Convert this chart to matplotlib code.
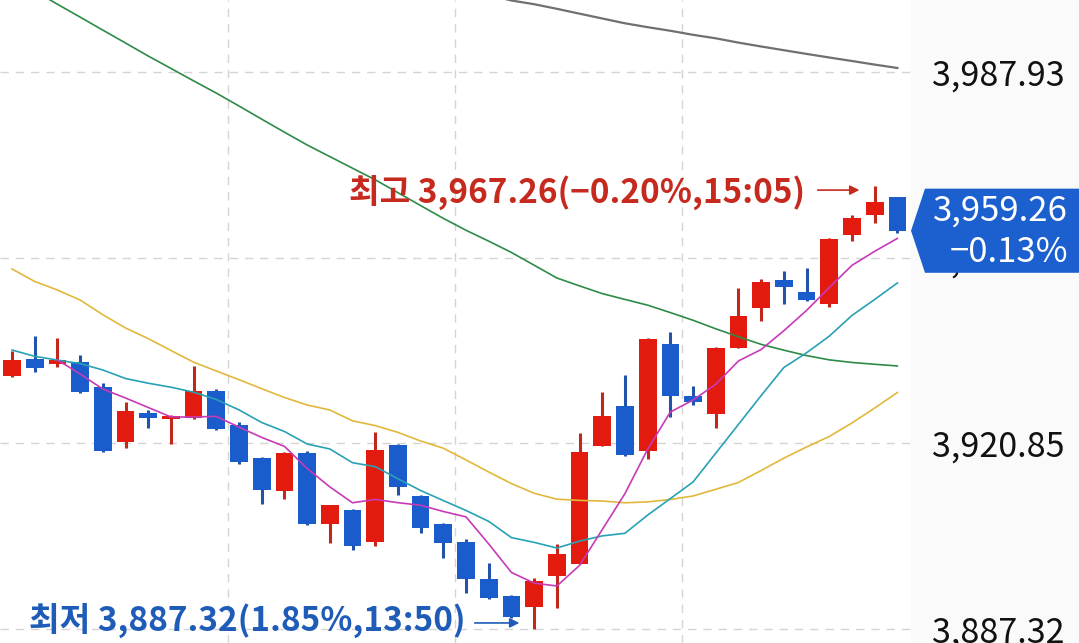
import numpy as np
import matplotlib.pyplot as plt
from matplotlib.patches import Polygon
from matplotlib.transforms import blended_transform_factory

plt.rcParams['font.family'] = ['Noto Sans CJK KR', 'DejaVu Sans']

# 5-minute candles, oldest first
opens = [3933.02, 3936.09, 3935.18, 3935.54, 3931.03, 3921.09, 3926.33, 3925.25, 3925.43, 3930.31,
         3924.16, 3918.20, 3912.24, 3919.11, 3906.28, 3908.81, 3903.03, 3920.55, 3911.34, 3906.28,
         3903.03, 3896.34, 3893.27, 3891.29, 3896.89, 3899.05, 3920.37, 3927.60, 3919.47, 3938.80,
         3929.40, 3926.15, 3938.07, 3945.30, 3950.36, 3948.19, 3946.02, 3958.49, 3962.10, 3965.35]
highs = [3937.53, 3940.24, 3939.88, 3936.81, 3931.75, 3928.32, 3926.87, 3925.90, 3934.82, 3930.67,
         3924.71, 3918.38, 3919.20, 3919.47, 3909.80, 3908.90, 3922.90, 3920.70, 3911.50, 3906.40,
         3903.57, 3899.23, 3893.40, 3896.52, 3902.67, 3922.72, 3930.13, 3933.20, 3939.80, 3940.96,
         3931.21, 3938.20, 3948.91, 3950.54, 3951.98, 3952.53, 3957.90, 3962.10, 3967.26, 3965.40]
lows = [3932.84, 3933.74, 3934.64, 3930.00, 3919.30, 3920.01, 3923.62, 3920.73, 3925.25, 3923.30,
        3917.12, 3909.89, 3910.80, 3906.10, 3902.85, 3901.58, 3902.31, 3911.52, 3904.65, 3900.14,
        3893.81, 3892.80, 3889.30, 3887.32, 3891.10, 3899.00, 3920.30, 3918.60, 3918.02, 3925.61,
        3927.78, 3923.62, 3938.00, 3942.95, 3946.02, 3946.60, 3945.48, 3957.40, 3960.66, 3958.85]
closes = [3935.91, 3934.46, 3935.91, 3930.13, 3919.47, 3926.69, 3925.43, 3925.79, 3930.31, 3923.44,
          3917.48, 3912.42, 3919.11, 3906.28, 3909.71, 3902.31, 3919.65, 3912.96, 3905.56, 3902.85,
          3896.34, 3892.91, 3889.48, 3895.98, 3900.86, 3919.29, 3925.79, 3918.74, 3939.70, 3929.40,
          3928.32, 3938.07, 3943.85, 3950.00, 3949.09, 3946.74, 3957.76, 3961.56, 3964.45, 3959.26]

nan = np.nan
ma5 = [nan, nan, 3935.91, 3933.39, 3930.65, 3929.04, 3927.33, 3925.61, 3925.61, 3925.72,
       3923.77, 3921.92, 3920.30, 3916.31, 3912.98, 3910.11, 3910.72, 3910.13, 3909.66, 3908.54,
       3907.56, 3902.67, 3897.52, 3895.60, 3895.08, 3898.80, 3905.27, 3911.77, 3919.79, 3926.51,
       3928.68, 3931.52, 3935.73, 3937.80, 3941.20, 3944.87, 3948.99, 3953.01, 3955.54, 3957.87]
ma10 = [3937.71, 3936.57, 3935.89, 3935.26, 3934.10, 3932.56, 3931.71, 3930.99, 3930.09, 3928.77,
        3926.89, 3924.61, 3922.99, 3920.73, 3919.83, 3917.35, 3916.63, 3914.45, 3912.33, 3910.51,
        3908.72, 3906.75, 3903.82, 3902.96, 3901.94, 3903.19, 3904.13, 3904.60, 3907.89, 3910.87,
        3913.87, 3919.07, 3924.27, 3929.48, 3934.55, 3937.21, 3940.21, 3943.96, 3946.84, 3949.82]
ma20 = [3952.35, 3950.09, 3948.55, 3946.74, 3944.09, 3941.69, 3939.77, 3937.62, 3935.51, 3933.92,
        3932.35, 3930.72, 3929.13, 3927.78, 3926.87, 3924.92, 3924.05, 3922.83, 3921.27, 3919.97,
        3917.84, 3915.67, 3913.58, 3911.83, 3910.76, 3910.54, 3910.43, 3910.11, 3910.27, 3910.71,
        3911.34, 3912.55, 3913.78, 3915.94, 3918.18, 3920.19, 3922.09, 3924.53, 3927.23, 3930.03]
ma60 = [4004.37, 4002.57, 4000.18, 3997.85, 3995.50, 3993.17, 3990.82, 3988.58, 3986.33, 3984.12,
        3981.79, 3979.41, 3977.06, 3974.75, 3972.65, 3970.55, 3968.46, 3966.13, 3963.80, 3961.49,
        3959.34, 3957.37, 3955.33, 3953.03, 3950.72, 3949.29, 3947.90, 3946.85, 3945.81, 3944.47,
        3943.08, 3941.54, 3940.10, 3938.73, 3937.68, 3936.70, 3935.93, 3935.46, 3935.13, 3934.83]
ma120 = [nan] * 20 + [4002.75, 4001.84, 4000.85, 4000.18, 3999.35, 3998.47, 3997.60, 3996.73,
                      3996.03, 3995.38, 3994.65, 3994.02, 3993.24, 3992.54, 3991.87, 3991.20,
                      3990.55, 3989.92, 3989.27, 3988.66]

y_ticks = [3987.93, 3954.39, 3920.85, 3887.32]
high_text = "최고 3,967.26(−0.20%,15:05)"
low_text = "최저 3,887.32(1.85%,13:50)"
last_change = "−0.13%"

RED = "#e31b0e"
BLUE = "#1a5ccc"

fig = plt.figure(figsize=(10.79, 6.43), dpi=100, facecolor="#fafafa")
ax = fig.add_axes([0, 0, 911 / 1079, 1])
ax.set_facecolor("white")

x = np.arange(len(opens))
o = np.array(opens)
c = np.array(closes)
up = c >= o
colors = np.where(up, RED, BLUE)
wick_colors = np.where(up, "#c0281c", "#2353a8")

ax.vlines(x, lows, highs, colors=wick_colors, linewidth=2.2, zorder=3)
body_bottom = np.minimum(o, c)
body_h = np.maximum(np.abs(c - o), 0.5)
ax.bar(x, body_h, bottom=body_bottom, width=0.78, color=colors, zorder=4)

ax.plot(x, ma120, color="#707070", lw=1.6, zorder=5)
ax.plot(x, ma60, color="#2e8b47", lw=1.2, zorder=5)
ax.plot(x, ma20, color="#e2b83c", lw=1.2, zorder=5)
ax.plot(x, ma10, color="#27a2b4", lw=1.2, zorder=5)
ax.plot(x, ma5, color="#c73ab8", lw=1.2, zorder=5)

ax.set_xlim(-0.529, 39.6)
ax.set_ylim(3884.78, 4000.94)

for s in ax.spines.values():
    s.set_visible(False)
ax.set_xticks([9.5, 19.5, 29.5])
ax.set_xticklabels([])
ax.tick_params(axis="x", length=0)
ax.yaxis.tick_right()
ax.set_yticks(y_ticks)
ax.set_yticklabels([f"{v:,.2f}" for v in y_ticks])
ax.tick_params(axis="y", length=0, pad=15, labelsize=24.5, labelcolor="#111111")
ax.grid(True, color="#d4d4d4", linestyle=(0, (6, 5)), linewidth=1.0, zorder=0)

# high / low markers
ax.text(34.93, 3966.0, high_text, color="#c62a1f", fontsize=24, fontweight="bold",
        ha="right", va="center", zorder=6)
ax.annotate("", xy=(37.45, 3966.6), xytext=(35.37, 3966.6),
            arrowprops=dict(arrowstyle="-|>", color="#c62a1f", lw=1.2, mutation_scale=14), zorder=6)
ax.text(19.96, 3888.6, low_text, color="#1f5cb8", fontsize=24, fontweight="bold",
        ha="right", va="center", zorder=6)
ax.annotate("", xy=(22.47, 3888.4), xytext=(20.26, 3888.4),
            arrowprops=dict(arrowstyle="-|>", color="#1f5cb8", lw=1.2, mutation_scale=14), zorder=6)

# last price tag
last = closes[-1]
tr = blended_transform_factory(fig.transFigure, ax.transData)
half = 7.6
tag = Polygon([(925 / 1079, last + half), (911 / 1079, last), (925 / 1079, last - half),
               (1.0, last - half), (1.0, last + half)],
              closed=True, transform=tr, facecolor="#1c5fcf", edgecolor="none",
              clip_on=False, zorder=10)
ax.add_patch(tag)
ax.text(1068 / 1079, last + 3.6, f"{last:,.2f}", transform=tr, color="white",
        fontsize=25, ha="right", va="center", clip_on=False, zorder=11)
ax.text(1068 / 1079, last - 4.0, last_change, transform=tr, color="white",
        fontsize=25, ha="right", va="center", clip_on=False, zorder=11)

fig.savefig("out.png", dpi=100, facecolor=fig.get_facecolor())
